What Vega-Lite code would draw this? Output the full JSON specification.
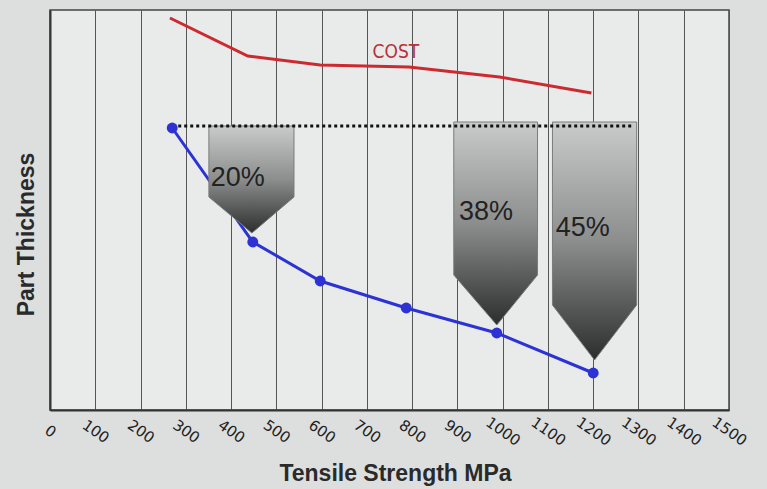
{
  "$schema": "https://vega.github.io/schema/vega-lite/v6.json",
  "width": 679,
  "height": 400,
  "autosize": {"type": "none"},
  "padding": {"left": 50, "top": 10, "right": 38, "bottom": 79},
  "background": "#dcdfde",
  "config": {
    "view": {"fill": "#e8ebea", "stroke": "#444", "strokeWidth": 1.5},
    "font": "Liberation Sans"
  },
  "datasets": {
    "thickness": [
      {"mpa": 270, "thickness": 70.5},
      {"mpa": 448, "thickness": 42},
      {"mpa": 597, "thickness": 32.25},
      {"mpa": 787, "thickness": 25.5},
      {"mpa": 987, "thickness": 19.25},
      {"mpa": 1200, "thickness": 9.25}
    ],
    "cost": [
      {"mpa": 265, "cost": 98},
      {"mpa": 437, "cost": 88.5},
      {"mpa": 597, "cost": 86.25},
      {"mpa": 793, "cost": 85.75},
      {"mpa": 993, "cost": 83.25},
      {"mpa": 1196, "cost": 79.25}
    ],
    "reference": [
      {"mpa": 270, "level": 71},
      {"mpa": 1285, "level": 71}
    ],
    "reductions": [
      {"arrow": "20%", "mpa": 351, "top": 71, "bottom": 53.25},
      {"arrow": "20%", "mpa": 446, "top": 71, "bottom": 44.25},
      {"arrow": "20%", "mpa": 539, "top": 71, "bottom": 53.25},
      {"arrow": "38%", "mpa": 892, "top": 72, "bottom": 33.75},
      {"arrow": "38%", "mpa": 987, "top": 72, "bottom": 21.25},
      {"arrow": "38%", "mpa": 1077, "top": 72, "bottom": 33.75},
      {"arrow": "45%", "mpa": 1110, "top": 72, "bottom": 26.25},
      {"arrow": "45%", "mpa": 1203, "top": 72, "bottom": 12.5},
      {"arrow": "45%", "mpa": 1296, "top": 72, "bottom": 26.25}
    ],
    "percentLabels": [
      {"mpa": 415, "level": 58, "text": "20%"},
      {"mpa": 963, "level": 49.5, "text": "38%"},
      {"mpa": 1177, "level": 45.5, "text": "45%"}
    ],
    "costLabel": [
      {"mpa": 764, "level": 89.5, "text": "COST"}
    ]
  },
  "encoding": {
    "x": {
      "type": "quantitative",
      "scale": {"domain": [0, 1500], "nice": false, "zero": false},
      "axis": {
        "values": [0, 100, 200, 300, 400, 500, 600, 700, 800, 900, 1000, 1100, 1200, 1300, 1400, 1500],
        "format": "d",
        "grid": true,
        "gridColor": "#555",
        "gridWidth": 1,
        "ticks": false,
        "domainColor": "#333",
        "domainWidth": 2,
        "labelAngle": 35,
        "labelAlign": "center",
        "labelBaseline": "middle",
        "labelPadding": 21,
        "labelFlush": false,
        "labelOverlap": false,
        "labelFont": "DejaVu Sans",
        "labelFontSize": 15,
        "labelColor": "#222",
        "title": "Tensile Strength MPa",
        "titleFont": "Liberation Sans",
        "titleFontSize": 23,
        "titleFontWeight": "bold",
        "titleColor": "#2a2a2a",
        "titleBaseline": "top",
        "titleX": 345,
        "titleY": 52
      }
    }
  },
  "layer": [
    {
      "data": {"name": "cost"},
      "mark": {"type": "line", "color": "#cc2a30", "strokeWidth": 3},
      "encoding": {
        "x": {"field": "mpa", "type": "quantitative"},
        "y": {
          "field": "cost",
          "type": "quantitative",
          "scale": {"domain": [0, 100], "nice": false},
          "axis": {
            "labels": false,
            "ticks": false,
            "grid": false,
            "domainColor": "#333",
            "domainWidth": 2,
            "title": "Part Thickness",
            "titleFont": "Liberation Sans",
            "titleFontSize": 23,
            "titleFontWeight": "bold",
            "titleColor": "#2a2a2a",
            "titleBaseline": "bottom",
            "titleX": -12,
            "titleY": 224
          }
        }
      }
    },
    {
      "data": {"name": "costLabel"},
      "mark": {"type": "text", "color": "#b8303a", "fontSize": 19, "font": "DejaVu Sans Condensed, Roboto, sans-serif"},
      "encoding": {
        "x": {"field": "mpa", "type": "quantitative"},
        "y": {"field": "level", "type": "quantitative"},
        "text": {"field": "text"}
      }
    },
    {
      "data": {"name": "thickness"},
      "mark": {"type": "line", "color": "#2c32d4", "strokeWidth": 3},
      "encoding": {
        "x": {"field": "mpa", "type": "quantitative"},
        "y": {"field": "thickness", "type": "quantitative"}
      }
    },
    {
      "data": {"name": "reductions"},
      "mark": {
        "type": "area",
        "stroke": "#7a7c7c",
        "strokeWidth": 1,
        "color": {
          "gradient": "linear",
          "x1": 0, "y1": 0, "x2": 0, "y2": 1,
          "stops": [
            {"offset": 0, "color": "#c9cbcb"},
            {"offset": 0.5, "color": "#8c8e8e"},
            {"offset": 1, "color": "#2c2e2e"}
          ]
        }
      },
      "encoding": {
        "x": {"field": "mpa", "type": "quantitative"},
        "y": {"field": "top", "type": "quantitative"},
        "y2": {"field": "bottom"},
        "detail": {"field": "arrow"}
      }
    },
    {
      "data": {"name": "reference"},
      "mark": {"type": "line", "color": "#111", "strokeWidth": 3, "strokeDash": [3, 3]},
      "encoding": {
        "x": {"field": "mpa", "type": "quantitative"},
        "y": {"field": "level", "type": "quantitative"}
      }
    },
    {
      "data": {"name": "thickness"},
      "mark": {"type": "point", "filled": true, "color": "#2c32d4", "size": 120, "opacity": 1},
      "encoding": {
        "x": {"field": "mpa", "type": "quantitative"},
        "y": {"field": "thickness", "type": "quantitative"}
      }
    },
    {
      "data": {"name": "percentLabels"},
      "mark": {"type": "text", "color": "#222", "fontSize": 27, "font": "Liberation Sans"},
      "encoding": {
        "x": {"field": "mpa", "type": "quantitative"},
        "y": {"field": "level", "type": "quantitative"},
        "text": {"field": "text"}
      }
    }
  ]
}
